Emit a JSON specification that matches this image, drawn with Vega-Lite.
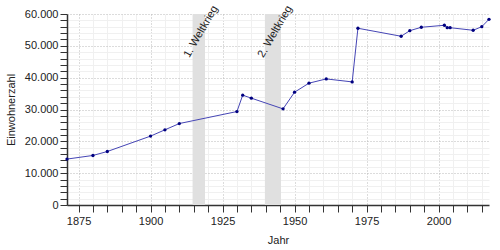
{
  "$schema": "https://vega.github.io/schema/vega-lite/v6.json",
  "width": 422,
  "height": 191,
  "autosize": "none",
  "padding": {"left": 67, "top": 14, "right": 11, "bottom": 45},
  "background": "white",
  "config": {"view": {"stroke": null}, "font": "Liberation Sans"},
  "datasets": {
    "pop": [
      {"Jahr": 1871, "Einwohner": 14430},
      {"Jahr": 1880, "Einwohner": 15560},
      {"Jahr": 1885, "Einwohner": 16810},
      {"Jahr": 1900, "Einwohner": 21640},
      {"Jahr": 1905, "Einwohner": 23620},
      {"Jahr": 1910, "Einwohner": 25590},
      {"Jahr": 1930, "Einwohner": 29360},
      {"Jahr": 1932, "Einwohner": 34500},
      {"Jahr": 1935, "Einwohner": 33560},
      {"Jahr": 1946, "Einwohner": 30200},
      {"Jahr": 1950, "Einwohner": 35440},
      {"Jahr": 1955, "Einwohner": 38270},
      {"Jahr": 1961, "Einwohner": 39610},
      {"Jahr": 1970, "Einwohner": 38670},
      {"Jahr": 1972, "Einwohner": 55520},
      {"Jahr": 1987, "Einwohner": 53010},
      {"Jahr": 1990, "Einwohner": 54760},
      {"Jahr": 1994, "Einwohner": 55830},
      {"Jahr": 2002, "Einwohner": 56460},
      {"Jahr": 2003, "Einwohner": 55700},
      {"Jahr": 2004, "Einwohner": 55700},
      {"Jahr": 2012, "Einwohner": 54890},
      {"Jahr": 2015, "Einwohner": 56020},
      {"Jahr": 2017.5, "Einwohner": 58340}
    ],
    "wars": [
      {"start": 1914.6, "end": 1918.9, "label": "1. Weltkrieg"},
      {"start": 1939.7, "end": 1945.3, "label": "2. Weltkrieg"}
    ]
  },
  "layer": [
    {
      "data": {"name": "wars"},
      "mark": {"type": "rect", "color": "#e0e0e0"},
      "encoding": {
        "x": {
          "field": "start", "type": "quantitative",
          "scale": {"domain": [1871, 2017.5], "nice": false, "zero": false},
          "axis": {
            "title": "Jahr",
            "values": [1875, 1880, 1885, 1890, 1895, 1900, 1905, 1910, 1915, 1920, 1925, 1930, 1935, 1940, 1945, 1950, 1955, 1960, 1965, 1970, 1975, 1980, 1985, 1990, 1995, 2000, 2005, 2010, 2015],
            "tickCount": 200,
            "labelExpr": "datum.value % 25 === 0 ? format(datum.value, 'd') : ''",
            "labelOverlap": false,
            "labelFontSize": 11,
            "labelColor": "#222",
            "labelPadding": 3,
            "tickSize": 7,
            "tickColor": "#333",
            "domainColor": "#333",
            "domainWidth": 1.5,
            "grid": true,
            "gridColor": {"condition": {"test": "datum.value % 25 === 0", "value": "#b8b8b8"}, "value": "#f0f0f0"},
            "gridDash": {"condition": {"test": "datum.value % 25 === 0", "value": [1, 2]}, "value": []},
            "titleFontSize": 11,
            "titleFontWeight": "normal",
            "titleColor": "#222",
            "titlePadding": 8,
            "encode": {"ticks": {"update": {"y2": {"signal": "datum.value % 25 === 0 ? 7 : 4"}}}}
          }
        },
        "x2": {"field": "end"}
      }
    },
    {
      "data": {"name": "wars"},
      "transform": [{"calculate": "(datum.start + datum.end) / 2", "as": "mid"}],
      "mark": {"type": "text", "angle": -60, "align": "center", "baseline": "middle", "fontSize": 11, "color": "#222", "dx": 1, "dy": 2},
      "encoding": {
        "x": {"field": "mid", "type": "quantitative"},
        "y": {
          "datum": 54500, "type": "quantitative",
          "scale": {"domain": [0, 60000], "nice": false},
          "axis": {
            "title": "Einwohnerzahl",
            "values": [0, 2000, 4000, 6000, 8000, 10000, 12000, 14000, 16000, 18000, 20000, 22000, 24000, 26000, 28000, 30000, 32000, 34000, 36000, 38000, 40000, 42000, 44000, 46000, 48000, 50000, 52000, 54000, 56000, 58000, 60000],
            "tickCount": 200,
            "labelExpr": "datum.value % 10000 === 0 ? replace(format(datum.value, ','), ',', '.') : ''",
            "labelOverlap": false,
            "labelFontSize": 11,
            "labelColor": "#222",
            "labelPadding": 2,
            "tickSize": 7,
            "tickColor": "#333",
            "domainColor": "#333",
            "domainWidth": 1.5,
            "grid": true,
            "gridColor": {"condition": {"test": "datum.value % 10000 === 0", "value": "#b8b8b8"}, "value": "#f0f0f0"},
            "gridDash": {"condition": {"test": "datum.value % 10000 === 0", "value": [1, 2]}, "value": []},
            "titleFontSize": 11,
            "titleFontWeight": "normal",
            "titleColor": "#222",
            "titlePadding": 8,
            "encode": {"ticks": {"update": {"x2": {"signal": "datum.value % 10000 === 0 ? -7 : -4"}}}}
          }
        },
        "text": {"field": "label"}
      }
    },
    {
      "data": {"name": "pop"},
      "mark": {"type": "line", "color": "#4545b5", "strokeWidth": 1, "clip": true},
      "encoding": {
        "x": {"field": "Jahr", "type": "quantitative"},
        "y": {"field": "Einwohner", "type": "quantitative"}
      }
    },
    {
      "data": {"name": "pop"},
      "mark": {"type": "point", "filled": true, "color": "#000080", "size": 11, "opacity": 1},
      "encoding": {
        "x": {"field": "Jahr", "type": "quantitative"},
        "y": {"field": "Einwohner", "type": "quantitative"}
      }
    }
  ]
}
